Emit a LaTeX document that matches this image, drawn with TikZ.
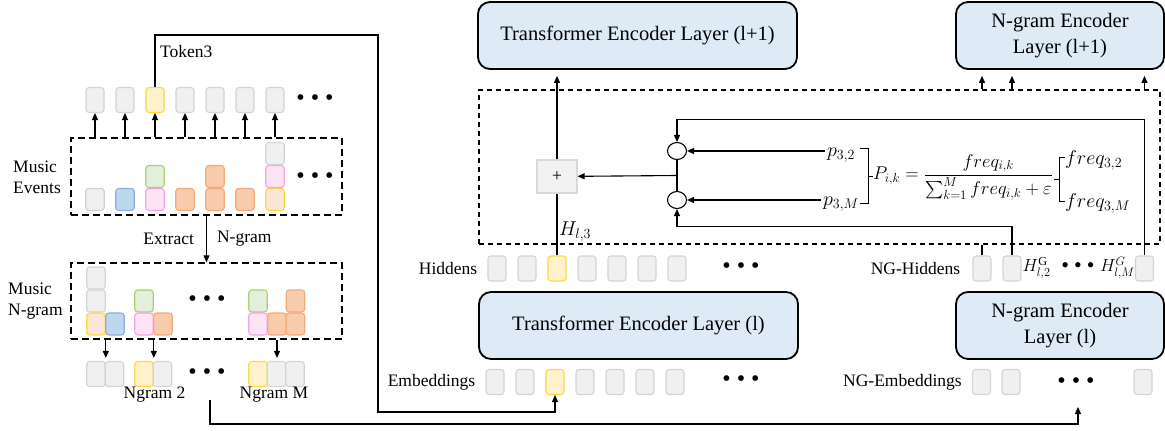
\RequirePackage{fix-cm}
\documentclass[tikz,border=0pt]{standalone}
\usepackage{amsmath}
\usepackage{fontspec}
\setmainfont{Liberation Serif}
\usetikzlibrary{shapes,arrows.meta,positioning}

\definecolor{tokfill}{HTML}{F0F0F0}
\definecolor{tokline}{HTML}{D4D4D4}
\definecolor{ylwfill}{HTML}{FFF2CC}
\definecolor{ylwline}{HTML}{FFD740}
\definecolor{blufill}{HTML}{BDD7EE}
\definecolor{bluline}{HTML}{8FAADC}
\definecolor{pnkfill}{HTML}{FCE4F5}
\definecolor{pnkline}{HTML}{F5A3E6}
\definecolor{grnfill}{HTML}{E2EFDA}
\definecolor{grnline}{HTML}{ADD16E}
\definecolor{orgfill}{HTML}{F8CBAD}
\definecolor{orgline}{HTML}{F4A978}
\definecolor{pchfill}{HTML}{FBE5D6}
\definecolor{layerfill}{HTML}{DEEAF6}
\definecolor{plusfill}{HTML}{F2F2F2}
\definecolor{plusline}{HTML}{D9D9D9}
\definecolor{grbline}{HTML}{D0CECE}

\newcommand{\tdots}{{\fontsize{24}{24}\selectfont\textbullet\hspace{6pt}\textbullet\hspace{6pt}\textbullet}}

\begin{document}
\begin{tikzpicture}[x=1pt, y=-1pt,
    tok/.style={rectangle, draw=tokline, fill=tokfill, rounded corners=3pt, line width=1.1pt, minimum width=18pt, minimum height=25pt, inner sep=0pt},
    blk/.style={tok, minimum width=18.5pt, minimum height=22pt},
    gry/.style={draw=tokline, fill=tokfill},
    grb/.style={draw=grbline, fill=tokfill},
    ylw/.style={draw=ylwline, fill=ylwfill},
    blu/.style={draw=bluline, fill=blufill},
    pnk/.style={draw=pnkline, fill=pnkfill},
    grn/.style={draw=grnline, fill=grnfill},
    org/.style={draw=orgline, fill=orgfill},
    pch/.style={draw=ylwline, fill=pchfill},
    lbl/.style={inner sep=0pt, font=\fontsize{17.5}{21}\selectfont},
    mth/.style={inner sep=0pt, font=\fontsize{20}{24}\selectfont},
    layer/.style={rectangle, draw, line width=1.8pt, fill=layerfill, rounded corners=12pt, align=center, minimum height=67pt, font=\fontsize{20.5}{26}\selectfont},
    dashbox/.style={rectangle, draw, line width=1.3pt, dash pattern=on 7pt off 4pt},
    plusbox/.style={rectangle, draw=plusline, fill=plusfill, line width=1.1pt, minimum width=40pt, minimum height=33pt, font=\fontsize{17.5}{21}\selectfont},
    gate/.style={ellipse, draw, line width=1.1pt, minimum width=19pt, minimum height=17pt, inner sep=0pt},
    arrow/.style={-{Triangle[length=7pt,width=6pt]}, line width=1.1pt}
]
\useasboundingbox (0,0) rectangle (1165,431);

% left: music tokens
\foreach \i/\c in {1/gry,2/gry,3/ylw,4/gry,5/gry,6/gry,7/gry}
    \node[tok, \c] (t\i) at (65+30*\i,100) {};
\node[lbl] (tdots) at (315,100) {\tdots};
\node[lbl, anchor=west] (token) at (160,52) {Token3};

\node[dashbox, minimum width=271pt, minimum height=77pt] (events) at (206.5,176.5) {};
\node[lbl, align=left, anchor=west] (evlbl) at (13,177) {Music\\Events};
\node[blk, grb] (ev1) at (95,199.5) {};
\node[blk, blu] (ev2) at (125,199.5) {};
\node[blk, pnk] (ev3) at (155,199.5) {};
\node[blk, grn] (ev3b) at (155,176.5) {};
\node[blk, org] (ev4) at (185,199.5) {};
\node[blk, org] (ev5) at (215,199.5) {};
\node[blk, org] (ev5b) at (215,176.5) {};
\node[blk, org] (ev6) at (245,199.5) {};
\node[blk, pch] (ev7) at (275,199.5) {};
\node[blk, pnk] (ev7b) at (275,176.5) {};
\node[blk, gry] (ev7c) at (275,153.5) {};
\node[lbl] (evdots) at (315,178) {\tdots};

\foreach \i in {1,...,7}
    \draw[arrow] (t\i.south |- events.north) -- (t\i.south);

% left: music n-grams
\node[dashbox, minimum width=271pt, minimum height=76pt] (ngram) at (206.5,301) {};
\node[lbl, align=left, anchor=west] (nglbl) at (8,301) {Music\\N-gram};
\draw[arrow] (events.south) -- node[lbl, left=12pt] {Extract} node[lbl, right=10pt] {N-gram} (ngram.north);

\node[blk, gry] (na1) at (96,278) {};
\node[blk, gry] (na2) at (96,301) {};
\node[blk, pch] (na3) at (96,324) {};
\node[blk, blu] (nb3) at (115,324) {};
\node[blk, grn] (nc2) at (144,301) {};
\node[blk, pnk] (nc3) at (144,324) {};
\node[blk, org] (nd3) at (163,324) {};
\node[lbl] (ngdots) at (207,301) {\tdots};
\node[blk, grn] (ne2) at (258,301) {};
\node[blk, pnk] (ne3) at (258,324) {};
\node[blk, org] (nf3) at (277,324) {};
\node[blk, org] (ng2) at (295.5,301) {};
\node[blk, org] (ng3) at (295.5,324) {};

\node[tok, gry, minimum width=18.5pt] (oa) at (96,374) {};
\node[tok, gry, minimum width=18.5pt] (ob) at (114.5,374) {};
\node[tok, ylw, minimum width=18.5pt] (oc) at (144,374) {};
\node[tok, gry, minimum width=18.5pt] (od) at (162.5,374) {};
\node[lbl] (odots) at (207,374) {\tdots};
\node[tok, ylw, minimum width=18.5pt] (oe) at (258,374) {};
\node[tok, gry, minimum width=18.5pt] (of) at (276.5,374) {};
\node[tok, gry, minimum width=18.5pt] (og) at (295,374) {};
\node[lbl] (ng2lbl) at (154.5,395) {Ngram 2};
\node[lbl] (ngmlbl) at (274,395) {Ngram M};

\draw[arrow, shorten >=3pt] (na3.east |- ngram.south) -- (na3.east |- oa.north);
\draw[arrow, shorten >=3pt] (nc3.east |- ngram.south) -- (nc3.east |- oc.north);
\draw[arrow, shorten >=3pt] (nf3 |- ngram.south) -- (nf3 |- of.north);

% right: layers
\node[layer, minimum width=319pt] (tl1) at (637.5,35.5) {Transformer Encoder Layer (l+1)};
\node[layer, minimum width=208pt] (nl1) at (1060,35.5) {N-gram Encoder\\Layer (l+1)};
\node[layer, minimum width=319pt] (tl0) at (638.5,325.5) {Transformer Encoder Layer (l)};
\node[layer, minimum width=208pt] (nl0) at (1060,325.5) {N-gram Encoder\\Layer (l)};

\node[dashbox, line width=1.1pt, dash pattern=on 5pt off 4pt, minimum width=681pt, minimum height=154pt] (fuse) at (819.5,167) {};

% hiddens and embeddings
\foreach \i/\c in {1/gry,2/gry,3/ylw,4/gry,5/gry,6/gry,7/gry} {
    \node[tok, \c] (h\i) at (467+30*\i,268.5) {};
    \node[tok, \c] (e\i) at (465+30*\i,382) {};
}
\node[lbl, left=10pt of h1] (hidlbl) {Hiddens};
\node[lbl, left=10pt of e1] (emblbl) {Embeddings};
\node[lbl] (hdots) at (741,268) {\tdots};
\node[lbl] (edots) at (741,381) {\tdots};

\node[tok] (ngh1) at (982,268.5) {};
\node[tok] (ngh2) at (1012,268.5) {};
\node[tok] (ngh3) at (1144.5,268.5) {};
\node[lbl, left=12pt of ngh1] (nghlbl) {NG-Hiddens};
\node[lbl, anchor=west] (hg2) at (1022.5,268) {$H_{l,2}^{\mathrm{G}}$};
\node[lbl, font=\fontsize{22}{22}\selectfont] (nghdots) at (1078,268) {\textbullet\hspace{5pt}\textbullet\hspace{5pt}\textbullet};
\node[lbl, anchor=east] (hgm) at (1135,268) {$H_{l,M}^{G}$};

\node[tok] (nge1) at (981.5,382) {};
\node[tok] (nge2) at (1011,382) {};
\node[tok] (nge3) at (1143,382) {};
\node[lbl, left=10pt of nge1] (ngelbl) {NG-Embeddings};
\node[lbl] (ngedots) at (1076,383) {\tdots};

% fusion
\node[plusbox] (plus) at (557,176.5) {+};
\node[gate] (g1) at (677,151) {};
\node[gate] (g2) at (677,200) {};
\draw[line width=1.1pt] (g1) -- coordinate[midway] (gm) (g2);
\draw[arrow] (gm) -- (plus);
\draw[line width=1.1pt] (h3.north) -- (plus.south);
\draw[arrow, shorten >=6pt] (plus) -- (plus |- tl1.south);
\node[mth, anchor=west] (hl3) at (559,232) {$H_{l,3}$};

\node[mth] (p32) at (841,155) {$p_{3,2}$};
\node[mth] (p3m) at (841,204) {$p_{3,M}$};
\draw[arrow, shorten <=2pt] (g1 -| p32.west) -- (g1);
\draw[arrow, shorten <=2pt] (g2 -| p3m.west) -- (g2);
\draw[line width=0.8pt] (860,148) -- (868,148) -- (868,203) -- (860,203);
\draw[line width=0.8pt] (868,176) -- (873,176);
\node[lbl, anchor=west, font=\fontsize{18.5}{22}\selectfont] (pik) at (873,177) {$P_{i,k}=\dfrac{freq_{i,k}}{\sum_{k=1}^{M}freq_{i,k}+\varepsilon}$};
\draw[line width=0.8pt] (1065,157) -- (1059,157) -- (1059,201) -- (1065,201);
\draw[line width=0.8pt] (1059,179) -- (1054,179);
\node[mth, anchor=west] (f32) at (1065,160) {$freq_{3,2}$};
\node[mth, anchor=west] (f3m) at (1065,203) {$freq_{3,M}$};

\draw[arrow] (ngh3.north) -- ++(0,-136) -| (g1.north);
\draw[arrow] (ngh2.north) -- ++(0,-29) -| (g2.south);
\draw[line width=1.1pt] (ngh1.north) -- (ngh1.north |- fuse.south);
\foreach \n in {ngh1,ngh2,ngh3}
    \draw[arrow, shorten >=6pt] (\n.north |- fuse.north) -- (\n.north |- nl1.south);

% long connectors
\coordinate (tk1) at (378,35);
\coordinate (tk2) at (378,412);
\draw[arrow] (t3.north) |- (tk1) -- (tk2) -| (e3.south);
\coordinate (bt1) at (210,400);
\coordinate (bt2) at (210,424);
\coordinate (ngin) at (1078,407);
\draw[arrow] (bt1) -- (bt2) -| (ngin);

\end{tikzpicture}
\end{document}
